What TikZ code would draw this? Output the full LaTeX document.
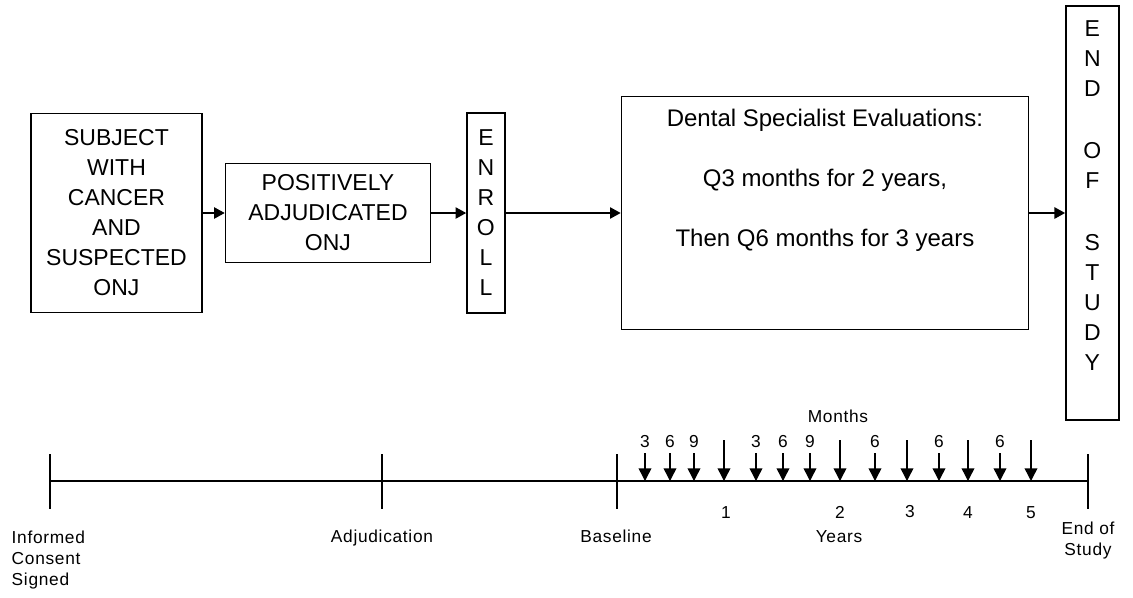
\documentclass[tikz,border=0pt]{standalone}
\usepackage{fontspec}
\setmainfont{Liberation Sans}
\usetikzlibrary{arrows.meta, positioning}
\newcommand{\boxfont}{\fontsize{17.25}{22.5}\selectfont}
\newcommand{\evalfont}{\fontsize{18}{22.5}\selectfont}
\newcommand{\tlfont}{\fontsize{13}{15.75}\selectfont\addfontfeature{LetterSpace=4}}

\begin{document}
\begin{tikzpicture}[
  x=0.75pt, y=-0.75pt,
  line width=1.1pt,
  box/.style={
    draw=black,
    align=center,
    inner sep=0pt,
    font=\boxfont,
  },
  lbl/.style={font=\tlfont, inner sep=0pt, text height=9.3pt, text depth=2.7pt},
  lines/.style={font=\tlfont, inner sep=0pt},
  flow/.style={-{Triangle[length=8pt, width=8.5pt]}},
  visit/.style={-{Triangle[length=9.5pt, width=9.5pt]}},
]
\useasboundingbox (0,0) rectangle (1133,597);

% ---- the boxes, left to right ---------------------------------------------
\node[box, minimum width=128.25pt, minimum height=149.25pt] (subj) at (116.5,213)
  {SUBJECT\\WITH\\CANCER\\AND\\SUSPECTED\\ONJ};
\node[box, minimum width=153.75pt, minimum height=74.25pt, right=16.5pt of subj] (adjbox)
  {POSITIVELY\\ADJUDICATED\\ONJ};
\node[box, minimum width=28.5pt, minimum height=150pt, right=26.25pt of adjbox] (enroll)
  {E\\N\\R\\O\\L\\L};
\node[box, minimum width=305.25pt, minimum height=174.75pt, right=86.25pt of enroll] (dental) {};
\node[font=\evalfont, align=center, inner sep=0pt, anchor=north] (dentaltext)
  at ([yshift=-9.75pt]dental.north)
  {Dental Specialist Evaluations:\\[22.5pt]
   Q3 months for 2 years,\\[22.5pt]
   Then Q6 months for 3 years};
\node[box, minimum width=39.75pt, minimum height=310.5pt, right=27pt of dental] (eos) {};
\node[font=\boxfont, align=center, inner sep=0pt, anchor=north] (eostext)
  at ([yshift=-11pt]eos.north)
  {E\\N\\D\\[24pt]O\\F\\[24pt]S\\T\\U\\D\\Y};

\draw[flow] (subj)   -- (adjbox);
\draw[flow] (adjbox) -- (enroll);
\draw[flow] (enroll) -- (dental);
\draw[flow] (dental) -- (eos);

% ---- the time line ---------------------------------------------------------
\coordinate (tlstart) at (50,481);
\coordinate (tlend)   at (1088,481);
\draw (tlstart) -- (tlend);
\foreach \x in {50,382,617,1088}
  \draw (\x,454) -- (\x,509);

% visits with a month above them
\foreach \x/\m in {645/3,670/6,694/9,756/3,783/6,810/9,875/6,939/6,1000/6}{
  \node[lbl] (mo\x) at (\x,443) {\m};
  \coordinate (vs\x) at (\x,453);
  \coordinate (ve\x) at (\x,481);
  \draw[visit] (vs\x) -- (ve\x);
}
% yearly visits
\foreach \x in {724,840,907,968,1031}{
  \coordinate (vs\x) at (\x,440);
  \coordinate (ve\x) at (\x,481);
  \draw[visit] (vs\x) -- (ve\x);
}

\node[lbl] (months) at (838,418) {Months};
\node[lbl] (yr1) at (726,514) {1};
\node[lbl] (yr2) at (840,514) {2};
\node[lbl] (yr3) at (910,513) {3};
\node[lbl] (yr4) at (968,514) {4};
\node[lbl] (yr5) at (1031,514) {5};
\node[lbl] (years) at (839,538) {Years};

% ---- milestones under the line ---------------------------------------------
\node[lines, align=left, anchor=north west] (consent) at (11,530)
  {Informed\\Consent\\Signed};
\node[lbl] (adjud) at (382,538) {Adjudication};
\node[lbl] (baseline) at (616,538) {Baseline};
\node[lines, align=center, anchor=north] (endstudy) at (1088,521)
  {End of\\Study};

\end{tikzpicture}
\end{document}
